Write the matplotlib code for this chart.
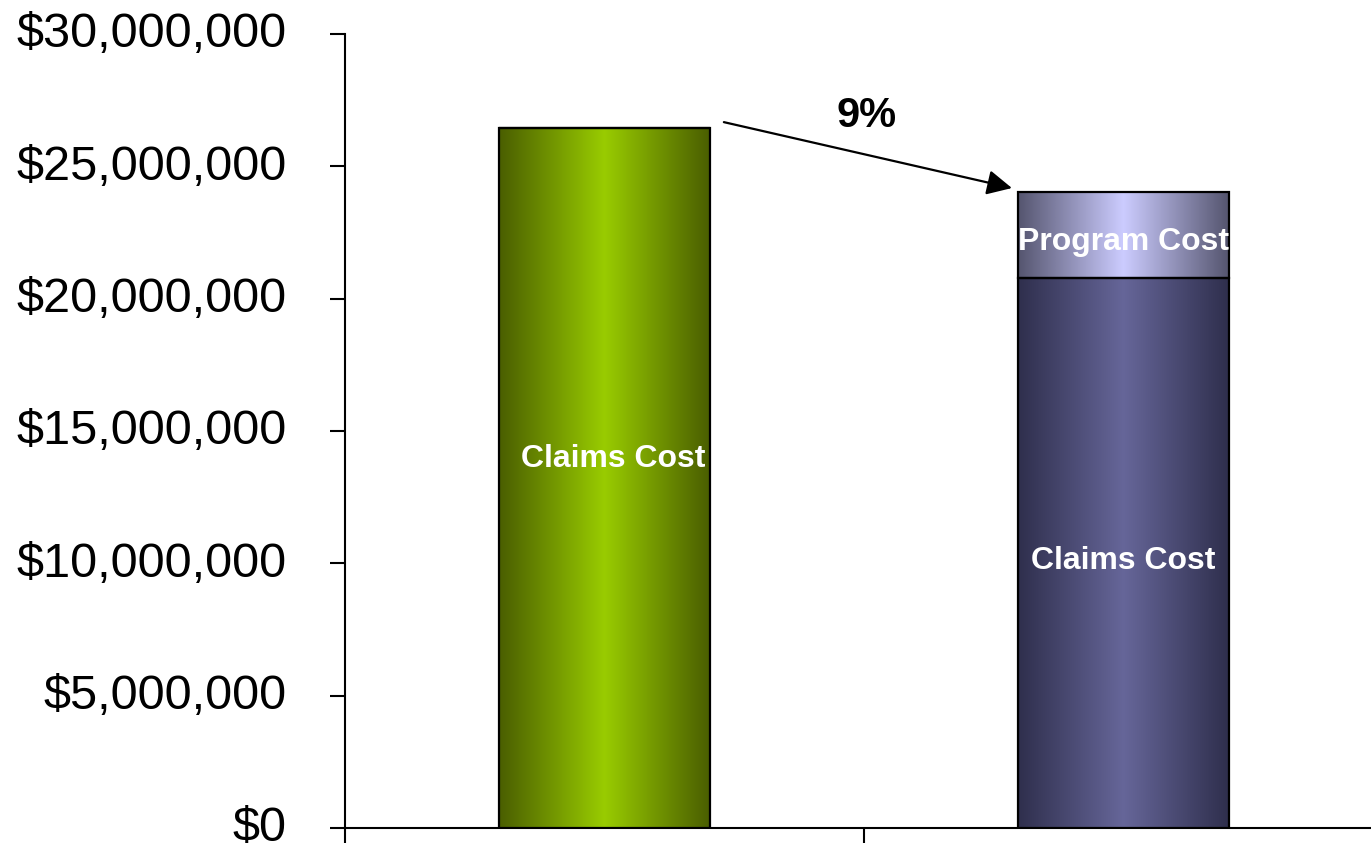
import matplotlib.pyplot as plt
import matplotlib.colors as mcolors
import matplotlib.transforms as mtransforms
import numpy as np

plt.rcParams['font.family'] = ['Liberation Sans', 'DejaVu Sans']

# cost data
categories = ['Before', 'After']
claims_cost = [26450000, 20780000]
program_cost = [0, 3250000]
change_label = '9%'

green_grad = ['#4a5e00', '#99cc00', '#4a5e00']
claims_grad = ['#2f2f4d', '#666699', '#2f2f4d']
program_grad = ['#55556f', '#ccccff', '#55556f']


def gradient_fill(ax, bar, colors):
    # horizontal dark-light-dark fill clipped to the bar rectangle
    cmap = mcolors.LinearSegmentedColormap.from_list('g', colors)
    x0, y0 = bar.get_x(), bar.get_y()
    w, h = bar.get_width(), bar.get_height()
    grad = np.linspace(0, 1, 256).reshape(1, -1)
    im = ax.imshow(grad, cmap=cmap, aspect='auto', extent=[x0, x0 + w, y0, y0 + h],
                   zorder=bar.get_zorder() - 0.1, interpolation='bicubic')
    im.set_clip_path(bar)


fig = plt.figure(figsize=(13.71, 8.43), dpi=100)
ax = fig.add_axes([345 / 1371, 15 / 843, 1038 / 1371, 794 / 843])

x = np.arange(len(categories))
width = 0.405
bars_claims = ax.bar(x, claims_cost, width, facecolor='none', edgecolor='black',
                     linewidth=1.6, zorder=3)
bars_prog = ax.bar(x, program_cost, width, bottom=claims_cost, facecolor='none',
                   edgecolor='black', linewidth=1.6, zorder=3)

gradient_fill(ax, bars_claims[0], green_grad)
gradient_fill(ax, bars_claims[1], claims_grad)
gradient_fill(ax, bars_prog[1], program_grad)

label_kw = dict(color='white', fontsize=23, fontweight='bold', ha='center', va='center', zorder=5)
ax.text(x[0] + 0.017, claims_cost[0] * 0.53 - 80000, 'Claims Cost', **label_kw)
ax.text(x[1], claims_cost[1] / 2 - 300000, 'Claims Cost', **label_kw)
ax.text(x[1], claims_cost[1] + program_cost[1] / 2 - 250000, 'Program Cost', **label_kw)

# reduction arrow between the two totals
total_after = claims_cost[1] + program_cost[1]
ax.annotate('', xy=(0.785, total_after + 150000), xytext=(0.230, claims_cost[0] + 220000),
            arrowprops=dict(arrowstyle='-|>', color='black', lw=1.6,
                            mutation_scale=38, shrinkA=0, shrinkB=0), zorder=6)
ax.text(0.504, 26900000, change_label, fontsize=30, fontweight='bold',
        ha='center', va='center')

ax.set_xlim(-0.5, 1.5)
ax.set_ylim(0, 30000000)
ax.set_xticks([-0.5, 0.5, 1.5])
ax.set_xticklabels([])
ax.set_yticks(np.arange(0, 30000001, 5000000))
ax.set_yticklabels(['${:,.0f}'.format(v) for v in ax.get_yticks()])
ax.tick_params(axis='y', length=11, width=1.5, pad=31, labelsize=35)
ax.tick_params(axis='x', length=11, width=1.5)
lift = mtransforms.ScaledTranslation(0, 3 / 72, fig.dpi_scale_trans)
for lbl in ax.get_yticklabels():
    lbl.set_transform(lbl.get_transform() + lift)
for side in ['top', 'right']:
    ax.spines[side].set_visible(False)
for side in ['left', 'bottom']:
    ax.spines[side].set_linewidth(1.5)

fig.savefig('out.png', dpi=100)
